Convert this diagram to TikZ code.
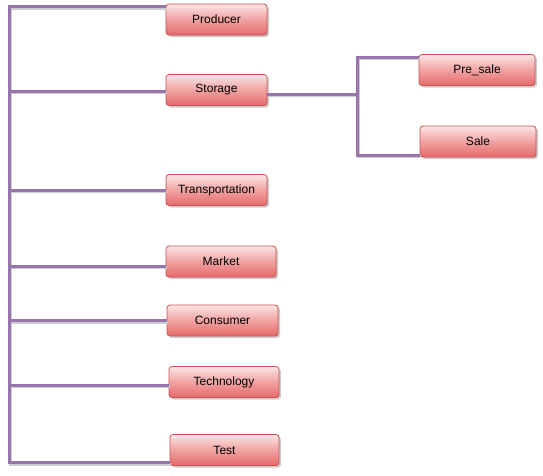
\documentclass[tikz,border=0pt]{standalone}
\usepackage{fontspec}
\setmainfont{Liberation Sans}
\usetikzlibrary{calc,shadows}
\definecolor{linkpurple}{HTML}{9A74AC}
\definecolor{boxborder}{HTML}{C9504E}
\definecolor{boxtop}{HTML}{FDE6E6}
\definecolor{boxbottom}{HTML}{E66A6A}
\tikzset{
  stage/.style={draw=boxborder, line width=0.8pt, rounded corners=3pt,
    top color=boxtop, bottom color=boxbottom, middle color=boxbottom!55!boxtop,
    drop shadow={shadow xshift=2pt, shadow yshift=-2pt, fill=black!25, opacity=0.8},
    minimum height=31pt, inner sep=0pt, font=\fontsize{12}{14}\selectfont},
  link/.style={draw=linkpurple, line width=3pt, line join=miter,
    preaction={draw=black!20, line width=3pt, transform canvas={xshift=1.5pt, yshift=-1.5pt}}}
}
\newcommand{\stagenode}[5]{%
\node[stage, minimum width=#4pt] (#1) at (#2,#3) {#5};
}

\begin{document}
\begin{tikzpicture}[x=1pt, y=-1pt]
\useasboundingbox (0,0) rectangle (543,475);

\coordinate (trunk) at (9,0);
\coordinate (branch) at (357,0);

\stagenode{producer}{216.5}{19.5}{101}{Producer}
\stagenode{storage}{216.5}{90}{101}{Storage}
\stagenode{transport}{216.5}{190}{101}{Transportation}
\stagenode{market}{221}{261.5}{110}{Market}
\stagenode{consumer}{222.5}{320.5}{111}{Consumer}
\stagenode{technology}{224}{382}{110}{Technology}
\stagenode{test}{224.5}{450}{109}{Test}
\stagenode{presale}{477}{70}{116}{Pre\_sale}
\stagenode{sale}{478}{141.5}{116}{Sale}

% main trunk
\coordinate (ptop) at ([yshift=-3pt]producer.north west);
\coordinate (tbot) at ([yshift=3pt]test.south west);
\draw[link] (ptop) -- (ptop -| trunk) -- (tbot -| trunk) -- (tbot);
\coordinate (sl) at ([yshift=-1pt]storage.west);
\draw[link] (sl) -- (sl -| trunk);
\draw[link] (transport.west) -- (transport.west -| trunk);
\coordinate (ml) at ([yshift=-4.5pt]market.west);
\draw[link] (ml) -- (ml -| trunk);
\draw[link] (consumer.west) -- (consumer.west -| trunk);
\coordinate (tl) at ([yshift=-3pt]technology.west);
\draw[link] (tl) -- (tl -| trunk);

% storage branch
\coordinate (sr) at ([yshift=-4pt]storage.east);
\coordinate (ptl) at ([yshift=-3pt]presale.north west);
\coordinate (sbl) at ([yshift=2pt]sale.south west);
\draw[link] (sr) -- (sr -| branch);
\draw[link] (ptl) -- (ptl -| branch) -- (sbl -| branch) -- (sbl);

\end{tikzpicture}
\end{document}
